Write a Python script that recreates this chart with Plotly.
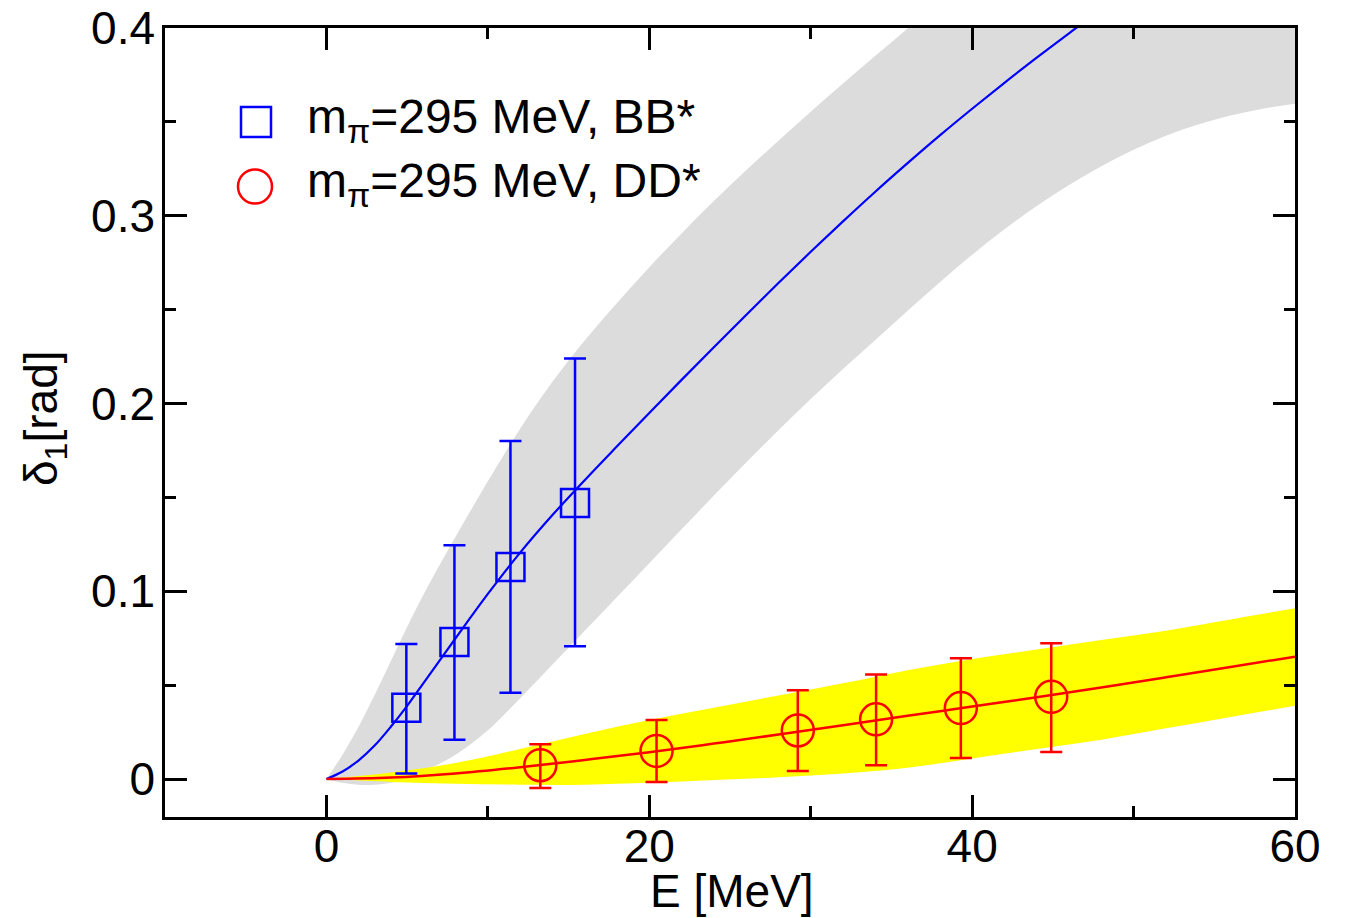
import plotly.graph_objects as go

# ---------------- data ----------------
# grey uncertainty band (BB*)
gray_x = [0, 1, 2, 3, 4, 5, 6, 8, 10, 12, 14, 16, 18, 20, 22, 24, 26, 28, 30,
          32, 34, 36, 38, 40, 42, 44, 46, 48, 50, 52, 54, 56, 58, 60]
gray_hi = [0, 0.013, 0.028, 0.045, 0.063, 0.081, 0.098, 0.129, 0.1586,
           0.1866, 0.2116, 0.2336, 0.2536, 0.2726, 0.2906, 0.3078, 0.3242,
           0.340, 0.3554, 0.3704, 0.3852, 0.3998, 0.4142, 0.4286, 0.443,
           0.457, 0.471, 0.485, 0.498, 0.511, 0.524, 0.537, 0.549, 0.561]
gray_lo = [0, -0.002, -0.003, -0.003, -0.002, 0.0, 0.004, 0.013, 0.026,
           0.043, 0.061, 0.079, 0.097, 0.115, 0.133, 0.151, 0.1686, 0.1858,
           0.2024, 0.2184, 0.2338, 0.2494, 0.2646, 0.2792, 0.2928, 0.3052,
           0.3164, 0.3264, 0.3352, 0.3426, 0.3486, 0.3534, 0.357, 0.3596]

# BB* fit curve
bb_curve_x = [0, 1, 2, 3, 4, 5, 6, 8, 10, 12, 14, 16, 18, 20, 22, 24, 26,
              28, 30, 32, 34, 36, 38, 40, 42, 44, 46, 48]
bb_curve_y = [0, 0.004, 0.010, 0.018, 0.028, 0.039, 0.051, 0.075, 0.0986,
              0.1206, 0.1406, 0.1592, 0.1772, 0.195, 0.2126, 0.230, 0.2472,
              0.2642, 0.2808, 0.297, 0.3128, 0.328, 0.3428, 0.357, 0.3708,
              0.3842, 0.3972, 0.4098]

# yellow uncertainty band (DD*)
yel_x = [0, 4, 8, 12, 16, 20, 24, 28, 32, 36, 40, 44, 48, 52, 56, 60]
yel_hi = [0, 0.0035, 0.0085, 0.016, 0.024, 0.0315, 0.038, 0.0445, 0.051,
          0.058, 0.064, 0.069, 0.074, 0.079, 0.085, 0.091]
yel_lo = [0, -0.0015, -0.0025, -0.003, -0.003, -0.002, -0.0005, 0.001, 0.003,
          0.006, 0.011, 0.016, 0.021, 0.027, 0.033, 0.039]

# DD* fit curve
dd_curve_x = [0, 4, 8, 12, 16, 20, 24, 28, 32, 36, 40, 44, 48, 52, 56, 60]
dd_curve_y = [0, 0.0008, 0.0030, 0.0063, 0.0102, 0.0143, 0.0189, 0.0237,
              0.0287, 0.0337, 0.0386, 0.0436, 0.0488, 0.0542, 0.0597, 0.0652]

# lattice points
bb_x = [4.95, 7.93, 11.4, 15.4]
bb_y = [0.038, 0.073, 0.113, 0.147]
bb_err_plus = [0.034, 0.0515, 0.067, 0.077]
bb_err_minus = [0.035, 0.052, 0.067, 0.0763]

dd_x = [13.25, 20.45, 29.2, 34.05, 39.3, 44.9]
dd_y = [0.0074, 0.0150, 0.0259, 0.0318, 0.0378, 0.0438]
dd_err_plus = [0.0112, 0.0164, 0.0214, 0.0239, 0.0266, 0.0285]
dd_err_minus = [0.0122, 0.0166, 0.0216, 0.0244, 0.0266, 0.0294]

legend_labels = ["m<sub>π</sub>=295 MeV, BB*", "m<sub>π</sub>=295 MeV, DD*"]
x_ticks = [0, 20, 40, 60]
y_ticks = [0, 0.1, 0.2, 0.3, 0.4]
y_ticktext = ["0", "0.1", "0.2", "0.3", "0.4"]

# ---------------- figure ----------------
W, H = 1348, 918
L, R, T, B = 165, 53, 28, 101
FONT = "Liberation Sans, Arial, Helvetica, sans-serif"

fig = go.Figure()

band_line = dict(width=0, shape="spline", smoothing=1.0)

# grey band
fig.add_trace(go.Scatter(x=gray_x, y=gray_lo, mode="lines",
                         line=dict(color="#dcdcdc", **band_line),
                         showlegend=False, hoverinfo="skip"))
fig.add_trace(go.Scatter(x=gray_x, y=gray_hi, mode="lines", fill="tonexty",
                         fillcolor="#dcdcdc",
                         line=dict(color="#dcdcdc", **band_line),
                         showlegend=False, hoverinfo="skip"))
# yellow band
fig.add_trace(go.Scatter(x=yel_x, y=yel_lo, mode="lines",
                         line=dict(color="#ffff00", **band_line),
                         showlegend=False, hoverinfo="skip"))
fig.add_trace(go.Scatter(x=yel_x, y=yel_hi, mode="lines", fill="tonexty",
                         fillcolor="#ffff00",
                         line=dict(color="#ffff00", **band_line),
                         showlegend=False, hoverinfo="skip"))
# curves
fig.add_trace(go.Scatter(x=bb_curve_x, y=bb_curve_y, mode="lines",
                         line=dict(color="#0000ff", width=2.2, shape="spline",
                                   smoothing=1.0),
                         showlegend=False))
fig.add_trace(go.Scatter(x=dd_curve_x, y=dd_curve_y, mode="lines",
                         line=dict(color="#ff0000", width=2.5, shape="spline",
                                   smoothing=1.0),
                         showlegend=False))
# points
fig.add_trace(go.Scatter(
    x=bb_x, y=bb_y, mode="markers", name=legend_labels[0],
    marker=dict(symbol="square-open", size=28, color="#0000ff",
                line=dict(width=2.5, color="#0000ff")),
    error_y=dict(type="data", array=bb_err_plus, arrayminus=bb_err_minus,
                 color="#0000ff", thickness=2.5, width=11),
    showlegend=False))
fig.add_trace(go.Scatter(
    x=dd_x, y=dd_y, mode="markers", name=legend_labels[1],
    marker=dict(symbol="circle-open", size=32, color="#ff0000",
                line=dict(width=2.5, color="#ff0000")),
    error_y=dict(type="data", array=dd_err_plus, arrayminus=dd_err_minus,
                 color="#ff0000", thickness=2.5, width=11),
    showlegend=False))

axis_common = dict(showline=True, linecolor="black", linewidth=2.5,
                   mirror="allticks", ticks="inside", ticklen=22,
                   tickwidth=2.5, tickcolor="black", showgrid=False,
                   zeroline=False,
                   tickfont=dict(family=FONT, size=46, color="black"))

fig.update_xaxes(range=[-10, 60], tickvals=x_ticks,
                 ticktext=[str(v) for v in x_ticks],
                 ticklabelstandoff=-13,
                 minor=dict(ticks="inside", ticklen=11, tickwidth=2.5,
                            tickcolor="black", dtick=10, tick0=0,
                            showgrid=False),
                 **axis_common)
fig.update_yaxes(range=[-0.0202, 0.4], tickvals=y_ticks, ticktext=y_ticktext,
                 ticklabelstandoff=-2,
                 minor=dict(ticks="inside", ticklen=11, tickwidth=2.5,
                            tickcolor="black", dtick=0.05, tick0=0,
                            showgrid=False),
                 **axis_common)

def px_x(p):
    return (p - L) / (W - L - R)

def px_y(p):
    return (H - B - p) / (H - T - B)

annotations = [
    dict(text="E [MeV]", x=px_x(732), y=px_y(891), xref="paper", yref="paper",
         xanchor="center", yanchor="middle", showarrow=False,
         font=dict(family=FONT, size=46, color="black")),
    dict(text="δ<sub>1</sub>[rad]", x=px_x(44), y=px_y(418), xref="paper",
         yref="paper", xanchor="center", yanchor="middle", textangle=-90,
         showarrow=False, font=dict(family=FONT, size=46, color="black")),
    dict(text=legend_labels[0], x=px_x(305), y=px_y(120), xref="paper",
         yref="paper", xanchor="left", yanchor="middle", showarrow=False,
         font=dict(family=FONT, size=48, color="black")),
    dict(text=legend_labels[1], x=px_x(305), y=px_y(184), xref="paper",
         yref="paper", xanchor="left", yanchor="middle", showarrow=False,
         font=dict(family=FONT, size=48, color="black")),
]

shapes = [
    dict(type="rect", xref="paper", yref="paper",
         x0=px_x(241), x1=px_x(271), y0=px_y(137), y1=px_y(107),
         line=dict(color="#0000ff", width=2.5), layer="above"),
    dict(type="circle", xref="paper", yref="paper",
         x0=px_x(238), x1=px_x(272), y0=px_y(203.5), y1=px_y(169.5),
         line=dict(color="#ff0000", width=2.5), layer="above"),
]

fig.update_layout(width=W, height=H,
                  margin=dict(l=L, r=R, t=T, b=B, autoexpand=False),
                  paper_bgcolor="white", plot_bgcolor="white",
                  showlegend=False, annotations=annotations, shapes=shapes,
                  font=dict(family=FONT, color="black"))

fig.write_html("out.html")
